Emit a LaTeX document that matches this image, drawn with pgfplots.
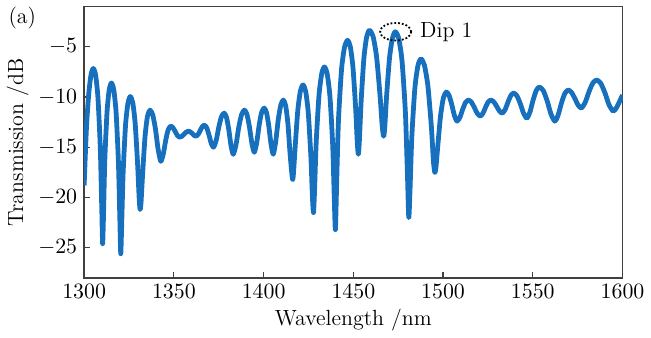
\documentclass[border=0pt]{standalone}
\usepackage{pgfplots}
\pgfplotsset{compat=1.18}
\definecolor{specblue}{RGB}{22,112,190}
\begin{document}
\begin{tikzpicture}[font=\fontsize{11}{13}\selectfont]
\begin{axis}[
  scale only axis,
  width=270pt, height=136pt,
  xmin=1300, xmax=1600, ymin=-28, ymax=-1,
  xtick={1300,1350,...,1600},
  ytick={-25,-20,-15,-10,-5},
  tick pos=left, tick align=inside,
  major tick length=3pt,
  tick label style={font=\fontsize{11}{13}\selectfont},
  label style={font=\fontsize{11}{13}\selectfont},
  axis line style={black!75, line width=0.7pt},
  every tick/.style={black!75, line width=0.6pt},
  xlabel={Wavelength /nm},
  ylabel={Transmission /dB},
  xticklabel style={/pgf/number format/1000 sep={}},
  xlabel style={yshift=2pt},
  ylabel style={yshift=-2pt},
  clip=true,
]
\addplot[specblue, line width=2.4pt, smooth, tension=0.4, line join=round] coordinates {
(1300,-18.8) (1301.3,-13.0) (1302.6,-9.6) (1303.9,-7.7)
(1305.1,-7.15) (1306.4,-7.82) (1307.7,-10.08) (1309.0,-15.06) (1309.8,-20.91)
(1310.3,-24.6) (1310.8,-21.7) (1311.5,-16.35) (1312.75,-11.5) (1313.975,-9.27)
(1315.2,-8.6) (1316.5,-9.27) (1317.8,-11.52) (1319.1,-16.47) (1319.9,-22.17)
(1320.4,-25.6) (1320.9,-22.87) (1321.7,-17.66) (1323.05,-12.84) (1324.4,-10.62)
(1325.7,-9.95) (1327.1,-10.58) (1328.45,-12.65) (1329.8,-16.72) (1330.65,-20.05)
(1331.2,-21.2) (1331.75,-20.36) (1332.6,-17.61) (1333.95,-13.89) (1335.3,-11.91)
(1336.7,-11.3) (1338.2,-11.76) (1339.7,-13.14) (1341.2,-15.17)
(1342.7,-16.4) (1344.1,-15.68) (1345.45,-14.31) (1346.8,-13.27)
(1348.2,-12.9) (1349.45,-13.05) (1350.7,-13.42) (1351.95,-13.82)
(1353.2,-14.0) (1354.45,-13.91) (1355.7,-13.69) (1356.95,-13.48)
(1358.2,-13.4) (1359.25,-13.47) (1360.3,-13.65) (1361.35,-13.83)
(1362.4,-13.9) (1363.55,-13.72) (1364.7,-13.32) (1365.85,-12.95)
(1367.0,-12.8) (1368.3,-13.06) (1369.55,-13.76) (1370.8,-14.6)
(1372.1,-15.0) (1373.6,-14.30) (1375.05,-12.98) (1376.5,-11.96)
(1378.0,-11.6) (1379.3,-12.01) (1380.55,-13.18) (1381.8,-14.80)
(1383.1,-15.7) (1384.65,-14.71) (1386.2,-12.97) (1387.75,-11.73)
(1389.3,-11.3) (1390.7,-11.71) (1392.05,-12.91) (1393.45,-14.57)
(1394.8,-15.5) (1396.2,-14.51) (1397.55,-12.77) (1398.9,-11.53)
(1400.3,-11.1) (1401.6,-11.54) (1402.85,-12.82) (1404.1,-14.64)
(1405.4,-15.7) (1406.8,-14.36) (1408.2,-12.21) (1409.6,-10.78)
(1411.0,-10.3) (1412.3,-10.87) (1413.55,-12.66) (1414.8,-15.76)
(1416.1,-18.2) (1416.7,-17.44) (1417.6,-14.92) (1419.05,-11.34) (1420.5,-9.40)
(1422.0,-8.8) (1423.45,-9.45) (1424.9,-11.58) (1426.35,-15.96) (1427.2,-19.94)
(1427.8,-21.5) (1428.4,-19.28) (1429.3,-14.53) (1430.85,-9.86) (1432.4,-7.66)
(1433.9,-7.0) (1435.4,-7.67) (1436.95,-9.91) (1438.5,-14.78) (1439.4,-20.2)
(1440.0,-23.2) (1440.7,-18.65) (1441.7,-12.38) (1443.4,-7.30) (1445.1,-5.03)
(1446.8,-4.35) (1448.3,-4.98) (1449.8,-7.05) (1451.3,-11.15) (1452.2,-14.53)
(1452.8,-15.7) (1453.4,-14.25) (1454.35,-10.43) (1455.9,-6.11) (1457.45,-4.0)
(1459.0,-3.35) (1461.0,-3.97) (1462.95,-5.99) (1464.9,-9.89) (1466.1,-12.92)
(1466.9,-13.9) (1467.55,-12.95) (1468.5,-9.99) (1470.15,-6.13) (1471.8,-4.12)
(1473.4,-3.5) (1475.3,-4.18) (1477.15,-6.44) (1479.0,-11.5) (1480.15,-17.67)
(1480.9,-22.0) (1481.6,-19.19) (1482.6,-13.93) (1484.3,-9.1) (1486.0,-6.87)
(1487.7,-6.2) (1489.6,-6.83) (1491.55,-8.9) (1493.5,-12.98) (1494.6,-16.34)
(1495.4,-17.5) (1496.05,-16.97) (1497.0,-15.0) (1498.6,-11.87) (1500.2,-10.07)
(1501.8,-9.5) (1503.3,-9.82) (1504.8,-10.71) (1506.3,-11.83)
(1507.8,-12.4) (1509.4,-12.02) (1510.95,-11.22) (1512.5,-10.55)
(1514.1,-10.3) (1515.75,-10.5) (1517.4,-11.03) (1519.05,-11.62)
(1520.7,-11.9) (1522.2,-11.62) (1523.65,-11.03) (1525.1,-10.5)
(1526.6,-10.3) (1528.2,-10.47) (1529.8,-10.9) (1531.4,-11.39)
(1533.0,-11.6) (1534.6,-11.24) (1536.2,-10.49) (1537.8,-9.84)
(1539.4,-9.6) (1541.2,-9.89) (1543.05,-10.67) (1544.9,-11.63)
(1546.7,-12.1) (1548.45,-11.48) (1550.2,-10.28) (1551.95,-9.34)
(1553.7,-9.0) (1555.85,-9.36) (1558.0,-10.38) (1560.15,-11.7)
(1562.3,-12.4) (1564.15,-11.78) (1566.0,-10.58) (1567.85,-9.64)
(1569.7,-9.3) (1571.5,-9.52) (1573.35,-10.11) (1575.2,-10.78)
(1577.0,-11.1) (1579.15,-10.56) (1581.3,-9.48) (1583.45,-8.61)
(1585.6,-8.3) (1587.9,-8.64) (1590.2,-9.58) (1592.5,-10.78)
(1594.8,-11.4) (1596.5,-11.1) (1598.2,-10.5) (1600,-9.8)
};
\draw[densely dotted, line width=0.9pt] (axis cs:1473.6,-3.5) ellipse [x radius=7.8pt, y radius=4.4pt];
\node[anchor=west, inner sep=0pt] at (axis cs:1487,-3.5) {Dip 1};
\end{axis}
\node[anchor=center] at ([xshift=-31pt,yshift=-5.5pt]current axis.north west) {(a)};
\end{tikzpicture}
\end{document}
